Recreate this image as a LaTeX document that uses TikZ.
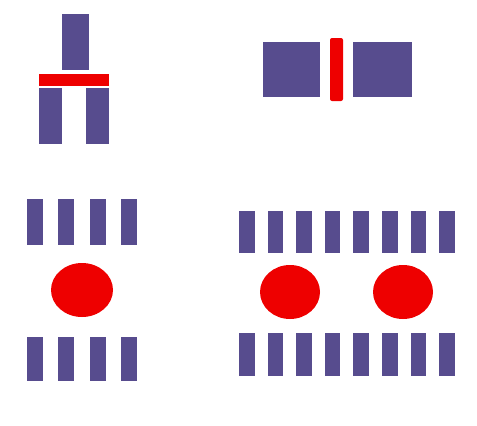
\documentclass[tikz,border=0pt]{standalone}
\definecolor{barpurple}{HTML}{574C8E}
\definecolor{padred}{HTML}{EE0000}
\tikzset{
  bar/.style={fill=barpurple},
  redbar/.style={fill=padred},
  pad/.style={fill=padred}
}
\begin{document}
\begin{tikzpicture}[x=1pt,y=-1pt]
\useasboundingbox[fill=white] (0,0) rectangle (477,426);
% top-left: fork
\fill[bar] (62,14) rectangle (89,70);
\fill[bar] (39,88) rectangle (62,144);
\fill[bar] (86,88) rectangle (109,144);
\fill[redbar] (39,74) rectangle (109,86);
% top-right: two blocks with separator
\fill[bar] (263,42) rectangle (320,97);
\fill[bar] (353,42) rectangle (412,97);
\fill[redbar,rounded corners=2pt] (330,38) rectangle (343,101);
% bottom-left
\foreach \x in {27,58,90,121}{
  \fill[bar] (\x,199) rectangle ++(16,46);
  \fill[bar] (\x,337) rectangle ++(16,44);
}
\fill[pad] (82,290) ellipse [x radius=31, y radius=27];
% bottom-right
\foreach \i in {0,...,7}{
  \pgfmathsetmacro{\xx}{239+\i*28.6}
  \fill[bar] (\xx,211) rectangle ++(15.5,42);
  \fill[bar] (\xx,333) rectangle ++(15.5,43);
}
\fill[pad] (290,292) ellipse [x radius=30, y radius=27];
\fill[pad] (403,292) ellipse [x radius=30, y radius=27];
\end{tikzpicture}
\end{document}
